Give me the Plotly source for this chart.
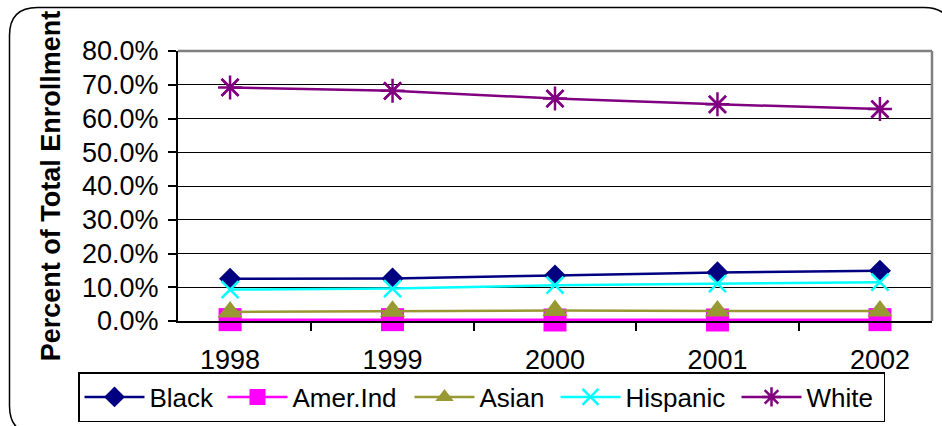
import plotly.graph_objects as go

years = ["1998", "1999", "2000", "2001", "2002"]
black = [12.5, 12.6, 13.5, 14.4, 14.9]
amer_ind = [0.4, 0.4, 0.3, 0.3, 0.4]
asian = [2.7, 2.9, 3.1, 3.0, 3.0]
hispanic = [9.3, 9.6, 10.6, 11.1, 11.5]
white = [69.2, 68.2, 65.9, 64.2, 62.8]
y_ticks = [0, 10, 20, 30, 40, 50, 60, 70, 80]
y_tick_text = ["%.1f%%" % v for v in y_ticks]

FONT = "Liberation Sans, Arial, sans-serif"
FS = 27
LFS = 26

W, H = 942, 426
ML, MR, MT, MB = 178, 10, 51, 105
PW, PH = W - ML - MR, H - MT - MB


def px2paper(x, y):
    return (x - ML) / PW, (H - MB - y) / PH


fig = go.Figure()

series = [
    ("Black", black, "#000080", "diamond", 17, 68),
    ("Amer.Ind", amer_ind, "#FF00FF", "square", 23, 112),
    ("Asian", asian, "#999933", "triangle-up", 22, 71),
    ("Hispanic", hispanic, "#00FFFF", "x-thin-open", 17, 106),
    ("White", white, "#800080", "asterisk-open", 20, 72),
]
for name, vals, color, sym, size, lw in series:
    fig.add_trace(go.Scatter(
        x=years, y=vals, name=name, mode="lines+markers",
        line=dict(color=color, width=2.5),
        marker=dict(symbol=sym, size=size, color=color,
                    line=dict(color=color, width=2.5 if "open" in sym else 0)),
        cliponaxis=False, legendwidth=lw,
    ))
# extra diagonal arms of the White star markers
fig.add_trace(go.Scatter(
    x=years, y=white, mode="markers", showlegend=False, hoverinfo="skip",
    marker=dict(symbol="x-thin-open", size=17, color="#800080",
                line=dict(color="#800080", width=2.5)),
    cliponaxis=False,
))

# rounded outer frame
x0, y0, x1, y1, r = 9.5, 7.5, 952, 434, 28


def P(x, y):
    a, b = px2paper(x, y)
    return "%.5f,%.5f" % (a, b)


path = ("M" + P(x0 + r, y0) + " L" + P(x1 - r, y0) + " Q" + P(x1, y0) + " " + P(x1, y0 + r) +
        " L" + P(x1, y1 - r) + " Q" + P(x1, y1) + " " + P(x1 - r, y1) +
        " L" + P(x0 + r, y1) + " Q" + P(x0, y1) + " " + P(x0, y1 - r) +
        " L" + P(x0, y0 + r) + " Q" + P(x0, y0) + " " + P(x0 + r, y0) + " Z")

fig.add_shape(type="path", path=path, xref="paper", yref="paper",
              line=dict(color="#000000", width=1.5), layer="below")
fig.add_shape(type="line", xref="paper", yref="paper", x0=0, x1=1, y0=1, y1=1,
              line=dict(color="#808080", width=2.5))
fig.add_shape(type="line", xref="paper", yref="paper", x0=1, x1=1, y0=0, y1=1,
              line=dict(color="#808080", width=2.5))

lx, ly = px2paper(78, 372)
fig.update_layout(
    width=W, height=H,
    margin=dict(l=ML, r=MR, t=MT, b=MB, autoexpand=False),
    paper_bgcolor="white", plot_bgcolor="white",
    font=dict(family=FONT, size=FS, color="#000000"),
    showlegend=True,
    legend=dict(orientation="h", x=lx, y=ly, xanchor="left", yanchor="top",
                bordercolor="#000000", borderwidth=1.5, bgcolor="white",
                font=dict(family=FONT, size=LFS), itemclick=False,
                tracegroupgap=0, itemwidth=60),
    xaxis=dict(type="category", tickson="boundaries", showgrid=False,
               ticks="outside", ticklen=8, tickcolor="#000000", tickwidth=1.5,
               showline=True, linecolor="#000000", linewidth=2,
               tickfont=dict(family=FONT, size=FS), ticklabelstandoff=14,
               zeroline=False, automargin=False, fixedrange=True),
    yaxis=dict(range=[0, 80], tickvals=y_ticks, ticktext=y_tick_text,
               showgrid=True, gridcolor="#000000", gridwidth=1,
               ticks="outside", ticklen=8, tickcolor="#000000", tickwidth=1.5,
               showline=True, linecolor="#000000", linewidth=2,
               zeroline=False, automargin=False, fixedrange=True,
               tickfont=dict(family=FONT, size=FS), ticklabelstandoff=4,
               title=dict(text="<b>Percent of Total Enrollment</b>",
                          font=dict(family=FONT, size=27), standoff=14)),
)

fig.write_html("out.html", config={"displayModeBar": False},
               post_script="document.body.style.margin='0px';")
